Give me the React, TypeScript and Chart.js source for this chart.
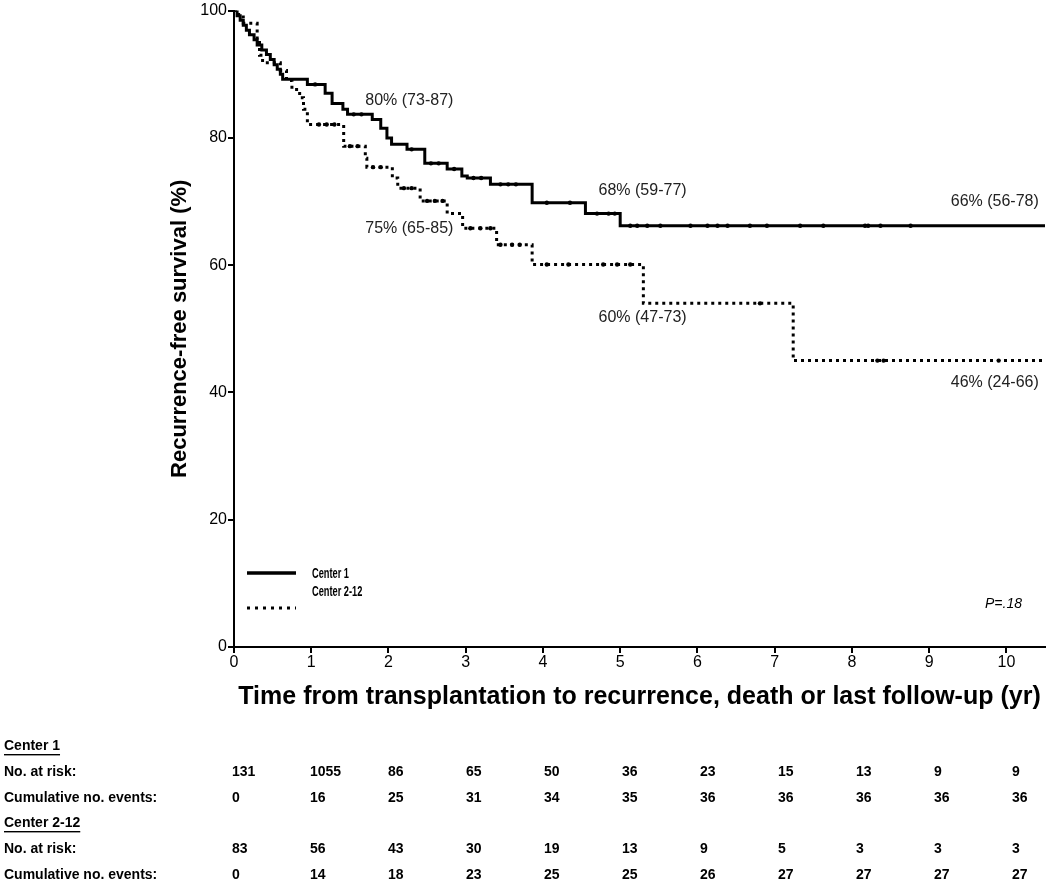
import React, { useEffect, useRef } from "react";
import { Chart, registerables } from "chart.js";

Chart.register(...registerables);

// ---- Data ----
const center1Times = [0, 0.04, 0.08, 0.12, 0.16, 0.2, 0.26, 0.3, 0.36, 0.42, 0.47, 0.52, 0.56, 0.6, 0.63, 0.95, 1.18, 1.27, 1.41, 1.47, 1.79, 1.9, 1.98, 2.04, 2.24, 2.47, 2.76, 2.95, 3.02, 3.32, 3.86, 4.55, 5.0, 10.5];
const center1Surv = [100, 99.2, 98.5, 97.7, 96.9, 96.2, 95.4, 94.6, 93.8, 93.1, 92.3, 91.5, 90.8, 90.0, 89.2, 88.4, 87.0, 85.4, 84.5, 83.7, 82.9, 81.5, 80.0, 79.0, 78.2, 76.0, 75.1, 74.0, 73.7, 72.7, 69.8, 68.1, 66.2, 66.2];

const center2Times = [0, 0.06, 0.12, 0.3, 0.33, 0.37, 0.6, 0.68, 0.75, 0.85, 0.9, 0.95, 1.42, 1.7, 1.72, 2.05, 2.12, 2.41, 2.76, 2.96, 3.4, 3.86, 5.3, 7.24, 10.5];
const center2Surv = [100, 99.0, 98.0, 95.3, 93.0, 91.8, 90.6, 89.0, 87.6, 86.3, 84.5, 82.1, 78.7, 76.8, 75.4, 73.7, 72.1, 70.1, 68.1, 65.8, 63.2, 60.1, 54.0, 45.0, 45.0];

const center1CensorTimes = [1.05, 1.55, 1.65, 2.3, 2.55, 2.65, 2.85, 3.1, 3.2, 3.45, 3.55, 3.65, 4.05, 4.35, 4.7, 4.85, 4.93, 5.13, 5.22, 5.35, 5.52, 5.91, 6.13, 6.26, 6.39, 6.68, 6.9, 7.33, 7.63, 8.17, 8.21, 8.37, 8.76];
const center1CensorSurv = [88.4, 83.7, 83.7, 78.2, 76.0, 76.0, 75.1, 73.7, 73.7, 72.7, 72.7, 72.7, 69.8, 69.8, 68.1, 68.1, 68.1, 66.2, 66.2, 66.2, 66.2, 66.2, 66.2, 66.2, 66.2, 66.2, 66.2, 66.2, 66.2, 66.2, 66.2, 66.2, 66.2];

const center2CensorTimes = [1.1, 1.2, 1.3, 1.5, 1.6, 1.8, 1.9, 2.2, 2.3, 2.5, 2.6, 2.7, 3.06, 3.19, 3.32, 3.45, 3.6, 3.7, 4.05, 4.33, 4.78, 4.96, 5.13, 6.81, 8.33, 8.41, 9.9];
const center2CensorSurv = [82.1, 82.1, 82.1, 78.7, 78.7, 75.4, 75.4, 72.1, 72.1, 70.1, 70.1, 70.1, 65.8, 65.8, 65.8, 63.2, 63.2, 63.2, 60.1, 60.1, 60.1, 60.1, 60.1, 54.0, 45.0, 45.0, 45.0];

const xTickValues = [0, 1, 2, 3, 4, 5, 6, 7, 8, 9, 10];
const yTickValues = [0, 20, 40, 60, 80, 100];

const seriesNames = ["Center 1", "Center 2-12"];

// annotation labels: text, x (yr), y (%)
const annoTexts = ["80% (73-87)", "68% (59-77)", "66% (56-78)", "75% (65-85)", "60% (47-73)", "46% (24-66)"];
const annoX = [1.7, 4.72, 9.28, 1.7, 4.72, 9.28];
const annoY = [85.8, 71.7, 70.0, 65.8, 51.7, 41.6];

const pValueText = "P=.18";

const riskRowLabels = ["No. at risk:", "Cumulative no. events:"];
const center1AtRisk = ["131", "1055", "86", "65", "50", "36", "23", "15", "13", "9", "9"];
const center1Events = ["0", "16", "25", "31", "34", "35", "36", "36", "36", "36", "36"];
const center2AtRisk = ["83", "56", "43", "30", "19", "13", "9", "5", "3", "3", "3"];
const center2Events = ["0", "14", "18", "23", "25", "25", "26", "27", "27", "27", "27"];

const FONT = '"Liberation Sans", Arial, sans-serif';

const toPoints = (xs: number[], ys: number[]) => xs.map((x, i) => ({ x, y: ys[i] }));

const overlayPlugin = {
  id: "overlay",
  afterDraw(chart: any) {
    const ctx = chart.ctx as CanvasRenderingContext2D;
    const xs = chart.scales.x;
    const ys = chart.scales.y;
    ctx.save();
    ctx.fillStyle = "#000";
    ctx.textBaseline = "middle";

    // annotations
    ctx.font = `16px ${FONT}`;
    ctx.fillStyle = "#222";
    ctx.textAlign = "left";
    annoTexts.forEach((t, i) => {
      ctx.fillText(t, xs.getPixelForValue(annoX[i]), ys.getPixelForValue(annoY[i]));
    });

    // P value
    ctx.font = `italic 14px ${FONT}`;
    ctx.fillStyle = "#000";
    ctx.fillText(pValueText, 985, 604);

    // legend
    const lx0 = 247, lx1 = 296;
    ctx.strokeStyle = "#000";
    ctx.lineWidth = 3.5;
    ctx.beginPath();
    ctx.moveTo(lx0, 573);
    ctx.lineTo(lx1, 573);
    ctx.stroke();
    ctx.setLineDash([3, 5]);
    ctx.lineWidth = 3;
    ctx.beginPath();
    ctx.moveTo(lx0, 608);
    ctx.lineTo(lx1, 608);
    ctx.stroke();
    ctx.setLineDash([]);
    ctx.font = `bold 14px ${FONT}`;
    const legY = [574, 592];
    seriesNames.forEach((n, i) => {
      ctx.save();
      ctx.translate(312, legY[i]);
      ctx.scale(0.66, 1);
      ctx.fillText(n, 0, 0);
      ctx.restore();
    });

    // risk table
    ctx.font = `bold 14px ${FONT}`;
    const colStart = 232, colStep = 78, labelX = 4;
    const rows = [746, 772, 798, 823, 849, 875];
    const header = (text: string, y: number) => {
      ctx.fillText(text, labelX, y);
      const w = ctx.measureText(text).width;
      ctx.fillRect(labelX, y + 8, w, 1.4);
    };
    const dataRow = (label: string, vals: string[], y: number) => {
      ctx.fillText(label, labelX, y);
      vals.forEach((v, i) => ctx.fillText(v, colStart + colStep * i, y));
    };
    header(seriesNames[0], rows[0]);
    dataRow(riskRowLabels[0], center1AtRisk, rows[1]);
    dataRow(riskRowLabels[1], center1Events, rows[2]);
    header(seriesNames[1], rows[3]);
    dataRow(riskRowLabels[0], center2AtRisk, rows[4]);
    dataRow(riskRowLabels[1], center2Events, rows[5]);

    ctx.restore();
  },
};

export default function App() {
  const ref = useRef<HTMLCanvasElement | null>(null);
  useEffect(() => {
    if (!ref.current) return;
    const chart = new Chart(ref.current, {
      type: "scatter",
      data: {
        datasets: [
          {
            label: seriesNames[0],
            data: toPoints(center1Times, center1Surv),
            showLine: true,
            stepped: true,
            borderColor: "#000",
            borderWidth: 3,
            pointRadius: 0,
            fill: false,
          },
          {
            label: seriesNames[1],
            data: toPoints(center2Times, center2Surv),
            showLine: true,
            stepped: true,
            borderColor: "#000",
            borderWidth: 3,
            borderDash: [3, 4],
            pointRadius: 0,
            fill: false,
          },
          {
            label: "c1 censored",
            data: toPoints(center1CensorTimes, center1CensorSurv),
            showLine: false,
            pointRadius: 2.2,
            pointStyle: "circle",
            backgroundColor: "#000",
            borderColor: "#000",
            borderWidth: 0,
          },
          {
            label: "c2 censored",
            data: toPoints(center2CensorTimes, center2CensorSurv),
            showLine: false,
            pointRadius: 2.2,
            pointStyle: "circle",
            backgroundColor: "#000",
            borderColor: "#000",
            borderWidth: 0,
          },
        ],
      } as any,
      options: {
        animation: false,
        responsive: false,
        devicePixelRatio: 1,
        layout: { padding: { left: 0, right: 5, top: 9, bottom: 164 } },
        plugins: { legend: { display: false }, tooltip: { enabled: false } },
        scales: {
          x: {
            type: "linear",
            min: 0,
            max: 10.5,
            afterBuildTicks: (s: any) => {
              s.ticks = xTickValues.map((v) => ({ value: v }));
            },
            afterFit: (s: any) => {
              s.height = 75;
            },
            ticks: { color: "#000", font: { family: FONT, size: 16 }, padding: 0, maxRotation: 0 },
            grid: { display: true, drawOnChartArea: false, drawTicks: true, tickLength: 6, color: "#000", lineWidth: 2 },
            border: { display: true, color: "#000", width: 2 },
            title: {
              display: true,
              text: "Time from transplantation to recurrence, death or last follow-up (yr)",
              color: "#000",
              font: { family: FONT, size: 25, weight: "bold" },
              padding: { top: 0, bottom: 10 },
            },
          },
          y: {
            type: "linear",
            min: 0,
            max: 100,
            afterBuildTicks: (s: any) => {
              s.ticks = yTickValues.map((v) => ({ value: v }));
            },
            afterFit: (s: any) => {
              s.width = 234;
            },
            ticks: { color: "#000", font: { family: FONT, size: 16 }, padding: 1 },
            grid: { display: true, drawOnChartArea: false, drawTicks: true, tickLength: 6, color: "#000", lineWidth: 2 },
            border: { display: true, color: "#000", width: 2 },
            title: {
              display: true,
              text: "Recurrence-free survival (%)",
              color: "#000",
              font: { family: FONT, size: 22, weight: "bold" },
              padding: { top: 167, bottom: 0 },
            },
          },
        },
      } as any,
      plugins: [overlayPlugin],
    });
    return () => chart.destroy();
  }, []);

  return (
    <div style={{ position: "fixed", left: 0, top: 0, width: 1050, height: 886, background: "#fff" }}>
      <canvas ref={ref} width={1050} height={886} />
    </div>
  );
}
